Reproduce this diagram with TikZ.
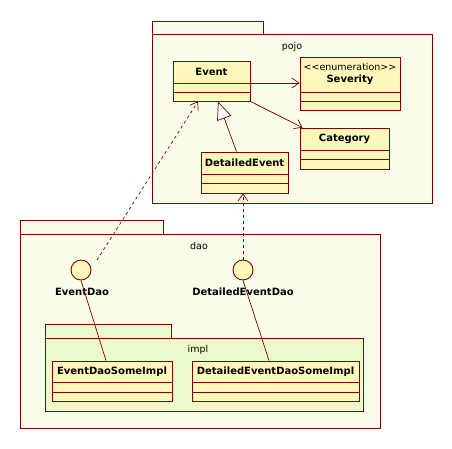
\documentclass[tikz,border=0pt]{standalone}
\usepackage{fontspec}
\setmainfont{DejaVu Sans}
\usetikzlibrary{arrows.meta}

\definecolor{umlline}{RGB}{128,0,0}
\definecolor{umlclass}{RGB}{255,248,186}
\definecolor{umlpkg}{RGB}{248,252,232}
\definecolor{umlimpl}{RGB}{234,250,202}

\begin{document}
\begin{tikzpicture}[x=1pt, y=-1pt, line width=0.9pt, font=\fontsize{9.5}{11}\selectfont]
    \fill[white] (0,0) rectangle (452,448);

    % packages
    \begin{scope}[draw=umlline]
        \filldraw[fill=umlpkg] (152,21) rectangle (263,34);
        \filldraw[fill=umlpkg] (152,34) rectangle (432,203);
        \filldraw[fill=umlpkg] (20,220) rectangle (163,234);
        \filldraw[fill=umlpkg] (20,234) rectangle (380,428);
        \filldraw[fill=umlimpl] (45,324) rectangle (171,338);
        \filldraw[fill=umlimpl] (45,338) rectangle (363,411);
        \node (pojo) at (292,47) {pojo};
        \node (dao) at (199,246) {dao};
        \node (impl) at (198,350) {impl};
    \end{scope}

    % classes
    \begin{scope}[every node/.style={rectangle, draw=umlline, fill=umlclass, inner sep=0pt}]
        \node[minimum width=77pt, minimum height=40pt] (event) at (211.5,81) {};
        \node[minimum width=100pt, minimum height=53pt] (sev) at (350,83.5) {};
        \node[minimum width=89pt, minimum height=41pt] (cat) at (344.5,148.5) {};
        \node[minimum width=87pt, minimum height=41pt] (devent) at (244.5,172.5) {};
        \node[minimum width=120pt, minimum height=40pt] (eimpl) at (112,381) {};
        \node[minimum width=167pt, minimum height=40pt] (dimpl) at (275.5,381) {};
    \end{scope}

    \begin{scope}[draw=umlline]
        \draw (173,83) -- (250,83);
        \draw (173,92) -- (250,92);
        \draw (300,92) -- (400,92);
        \draw (300,101) -- (400,101);
        \draw (300,150) -- (389,150);
        \draw (300,159) -- (389,159);
        \draw (201,174) -- (288,174);
        \draw (201,183) -- (288,183);
        \draw (52,382) -- (172,382);
        \draw (52,392) -- (172,392);
        \draw (192,382) -- (359,382);
        \draw (192,392) -- (359,392);
    \end{scope}

    \begin{scope}[every node/.style={font=\fontsize{10}{12}\selectfont\bfseries}]
        \node at (211.5,72) {Event};
        \node[font=\fontsize{9.5}{11}\selectfont] at (350,67) {<{}<enumeration>{}>};
        \node at (350,80) {Severity};
        \node at (344.5,139) {Category};
        \node at (244.5,163) {DetailedEvent};
        \node at (112,372) {EventDaoSomeImpl};
        \node at (275.5,372) {DetailedEventDaoSomeImpl};
    \end{scope}

    % interfaces
    \begin{scope}[every node/.style={circle, draw=umlline, fill=umlclass, minimum size=20pt, inner sep=0pt}]
        \node (edao) at (81,270) {};
        \node (ddao) at (243,270) {};
    \end{scope}
    \begin{scope}[every node/.style={font=\fontsize{10}{12}\selectfont\bfseries}]
        \node at (82,292) {EventDao};
        \node at (243,292) {DetailedEventDao};
    \end{scope}

    % relations
    \begin{scope}[every edge/.style={draw=umlline, line width=0.7pt}]
        \path [-{Straight Barb[length=7pt,width=10pt]}] ([yshift=-2pt]event.east) edge ([yshift=-2pt]event.east -| sev.west);
        \path [-{Straight Barb[length=7pt,width=10pt]}] (event.south east) edge ([xshift=3pt]cat.north west);
        \path [-{Triangle[open,length=18pt,width=15pt,fill=white]}] ([xshift=-8pt]devent.north) edge ([xshift=6.5pt]event.south);
        \path [dashed, -{Straight Barb[length=7pt,width=10pt]}] ([shift={(16,-10)}]edao.center) edge ([xshift=-13.5pt]event.south);
        \path [dashed, -{Straight Barb[length=7pt,width=10pt]}] (ddao.north) edge (ddao.north |- devent.south);
        \path [-] (edao.south) edge ([xshift=-6pt]eimpl.north);
        \path [-] (ddao.south) edge ([xshift=-6.5pt]dimpl.north);
    \end{scope}
\end{tikzpicture}
\end{document}
